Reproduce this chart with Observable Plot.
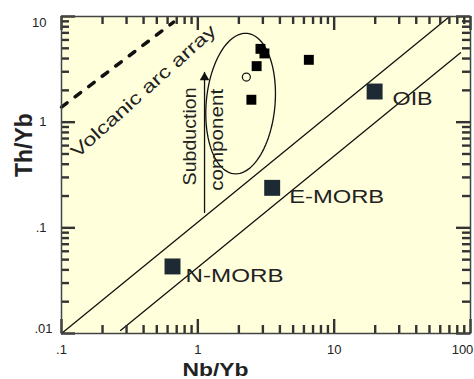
<!DOCTYPE html>
<html><head><meta charset="utf-8">
<script src="https://cdn.jsdelivr.net/npm/d3@7"></script>
<script src="https://cdn.jsdelivr.net/npm/@observablehq/plot@0.6"></script>
<style>body{margin:0;background:#fff;font-family:"Liberation Sans",Arial,sans-serif}</style>
</head><body><div id="chart"></div>
<script>
// ---- data ----
const sampleNbYb = [2.88, 3.08, 2.70, 2.47, 6.52];
const sampleThYb = [4.94, 4.47, 3.39, 1.63, 3.89];
const openNbYb = [2.27];
const openThYb = [2.67];
const refNames = ["OIB", "E-MORB", "N-MORB"];
const refNbYb = [19.8, 3.51, 0.652];
const refThYb = [1.95, 0.239, 0.0431];
// array boundary lines (end points)
const upperNbYb = [0.1, 70.3];
const upperThYb = [0.01, 10];
const lowerNbYb = [0.271, 84.5];
const lowerThYb = [0.0107, 4.54];
const arcNbYb = [0.1, 0.664];
const arcThYb = [1.39, 8.84];
const subductionNbYb = [1.12, 1.12];
const subductionThYb = [0.14, 2.95];
// ellipse: centre and half-axes (in decades)
const ellipseCentre = [2.06, 1.50];
const ellipseHalfAxes = [0.253, 0.665];
const ellipseLean = 0.036;
// ticks
const xTicks = [0.1, 1, 10, 100];
const xTickLabels = [".1", "1", "10", "100"];
const yTicks = [0.01, 0.1, 1, 10];
const yTickLabels = [".01", ".1", "1", "10"];
const xMinorTicks = [0.2,0.3,0.4,0.5,0.6,0.7,0.8,0.9,2,3,4,5,6,7,8,9,20,30,40,50,60,70,80,90];
const yMinorTicks = [0.02,0.03,0.04,0.05,0.06,0.07,0.08,0.09,0.2,0.3,0.4,0.5,0.6,0.7,0.8,0.9,2,3,4,5,6,7,8,9];

const xDomain = [0.1, 100];
const yDomain = [0.01, 10];
const W = 474, H = 379, ML = 61, MR = 4, MT = 16, MB = 46;
const FW = W - ML - MR, FH = H - MT - MB;
const majorLen = 14, minorLen = 8;

// ---- build tables ----
const samples = sampleNbYb.map((x, i) => ({x, y: sampleThYb[i]}));
const opens = openNbYb.map((x, i) => ({x, y: openThYb[i]}));
const refs = refNames.map((name, i) => ({name, x: refNbYb[i], y: refThYb[i]}));
const seg = (xs, ys) => xs.map((x, i) => ({x, y: ys[i]}));
const ellipse = d3.range(0, 101).map(k => {
  const t = (k / 100) * 2 * Math.PI;
  const lx = Math.log10(ellipseCentre[0]) + ellipseHalfAxes[0] * Math.cos(t) + ellipseLean * Math.sin(t);
  const ly = Math.log10(ellipseCentre[1]) + ellipseHalfAxes[1] * Math.sin(t);
  return {x: Math.pow(10, lx), y: Math.pow(10, ly)};
});
const xLabels = xTicks.map((v, i) => ({v, label: xTickLabels[i]}));
const yLabels = yTicks.map((v, i) => ({v, label: yTickLabels[i]}));

const chart = Plot.plot({
  width: W, height: H,
  marginLeft: ML, marginRight: MR, marginTop: MT, marginBottom: MB,
  x: {type: "log", domain: xDomain, axis: null},
  y: {type: "log", domain: yDomain, axis: null},
  marks: [
    Plot.frame({fill: "#ffffdc", stroke: null}),
    // tick labels
    Plot.text(xLabels.filter(d => d.v < 100), {x: "v", text: "label", frameAnchor: "bottom", lineAnchor: "top", dy: 11, fontSize: 13, fill: "#222"}),
    Plot.text(xLabels.filter(d => d.v === 100), {x: "v", text: "label", frameAnchor: "bottom", lineAnchor: "top", dy: 11, dx: -8, fontSize: 13, fill: "#222"}),
    Plot.text(yLabels.filter(d => d.v > 0.01 && d.v < 10), {y: "v", text: "label", frameAnchor: "left", textAnchor: "end", dx: -15, fontSize: 13, fill: "#222"}),
    Plot.text(yLabels.filter(d => d.v === 10), {y: "v", text: "label", frameAnchor: "left", textAnchor: "end", dx: -15, dy: 6, fontSize: 13, fill: "#222"}),
    Plot.text(yLabels.filter(d => d.v === 0.01), {y: "v", text: "label", frameAnchor: "left", textAnchor: "end", dx: -9, dy: -5, fontSize: 13, fill: "#222"}),
    // array lines
    Plot.line(seg(upperNbYb, upperThYb), {x: "x", y: "y", stroke: "#111", strokeWidth: 1.3}),
    Plot.line(seg(lowerNbYb, lowerThYb), {x: "x", y: "y", stroke: "#111", strokeWidth: 1.3}),
    Plot.line(seg(arcNbYb, arcThYb), {x: "x", y: "y", stroke: "#111", strokeWidth: 3.5, strokeDasharray: "7,10"}),
    Plot.line(ellipse, {x: "x", y: "y", stroke: "#111", strokeWidth: 1.3, curve: "linear"}),
    // subduction arrow
    Plot.line(seg(subductionNbYb, subductionThYb), {x: "x", y: "y", stroke: "#111", strokeWidth: 1.3}),
    Plot.dot(seg(subductionNbYb, subductionThYb).slice(1), {x: "x", y: "y", symbol: "triangle", r: 3.6, fill: "#111", dy: 5}),
    // points
    Plot.dot(refs, {x: "x", y: "y", symbol: "square", r: 9, fill: "#1e2a33"}),
    Plot.dot(samples, {x: "x", y: "y", symbol: "square", r: 5.6, fill: "#000"}),
    Plot.dot(opens, {x: "x", y: "y", r: 4, stroke: "#111", strokeWidth: 1.2, fill: "none"}),
    // labels
    Plot.text(refs.filter(d => d.name === "OIB"), {x: "x", y: "y", text: "name", textAnchor: "start", lineAnchor: "bottom", dx: 18, dy: 13, fontSize: 19, fill: "#222"}),
    Plot.text(refs.filter(d => d.name === "E-MORB"), {x: "x", y: "y", text: "name", textAnchor: "start", lineAnchor: "bottom", dx: 17, dy: 15, fontSize: 19, fill: "#222"}),
    Plot.text(refs.filter(d => d.name === "N-MORB"), {x: "x", y: "y", text: "name", textAnchor: "start", lineAnchor: "bottom", dx: 13, dy: 16, fontSize: 19, fill: "#222"}),
    Plot.text(["Volcanic arc array"], {x: 0.131, y: 0.454, text: d => d, rotate: -42, textAnchor: "start", lineAnchor: "bottom", fontSize: 18, fill: "#222"}),
    Plot.text(["Subduction"], {x: 0.962, y: 0.733, text: d => d, rotate: -90, lineAnchor: "bottom", fontSize: 19, fill: "#222"}),
    Plot.text(["component"], {x: 1.52, y: 0.68, text: d => d, rotate: -90, lineAnchor: "bottom", fontSize: 19, fill: "#222"}),
    // axis titles
    Plot.text(["Th/Yb"], {frameAnchor: "left", text: d => d, rotate: -90, dx: -37, dy: 2, fontSize: 23, fontWeight: "bold", fill: "#222"}),
    Plot.text(["Nb/Yb"], {frameAnchor: "bottom", text: d => d, textAnchor: "start", lineAnchor: "top", dx: -(FW / 2) + 121, dy: 29, fontSize: 19, fontWeight: "bold", fill: "#222"}),
    // inward ticks on all four sides (drawn last, on top)
    Plot.ruleX(xTicks, {x: d => d, insetTop: FH - majorLen, stroke: "#333", strokeWidth: 2.4}),
    Plot.ruleX(xMinorTicks, {x: d => d, insetTop: FH - minorLen, stroke: "#333", strokeWidth: 2.4}),
    Plot.ruleX(xTicks, {x: d => d, insetBottom: FH - majorLen, stroke: "#333", strokeWidth: 2.4}),
    Plot.ruleX(xMinorTicks, {x: d => d, insetBottom: FH - minorLen, stroke: "#333", strokeWidth: 2.4}),
    Plot.ruleY(yTicks, {y: d => d, insetRight: FW - majorLen, stroke: "#333", strokeWidth: 2.4}),
    Plot.ruleY(yMinorTicks, {y: d => d, insetRight: FW - minorLen, stroke: "#333", strokeWidth: 2.4}),
    Plot.ruleY(yTicks, {y: d => d, insetLeft: FW - majorLen, stroke: "#333", strokeWidth: 2.4}),
    Plot.ruleY(yMinorTicks, {y: d => d, insetLeft: FW - minorLen, stroke: "#333", strokeWidth: 2.4}),
    Plot.frame({stroke: "#444", strokeWidth: 1.5})
  ]
});

// stretch some labels to the widths seen in the reference
const stretch = new Map([["Volcanic arc array", 188], ["OIB", 40], ["E-MORB", 95], ["N-MORB", 98],
  ["Subduction", 98], ["component", 102], ["Nb/Yb", 66]]);
d3.select(chart).selectAll("text").each(function () {
  const w = stretch.get(this.textContent);
  if (w) { this.setAttribute("textLength", w); this.setAttribute("lengthAdjust", "spacingAndGlyphs"); }
});
chart.style.fontFamily = "Liberation Sans, Arial, sans-serif";
document.getElementById("chart").appendChild(chart);
</script>
</body></html>
